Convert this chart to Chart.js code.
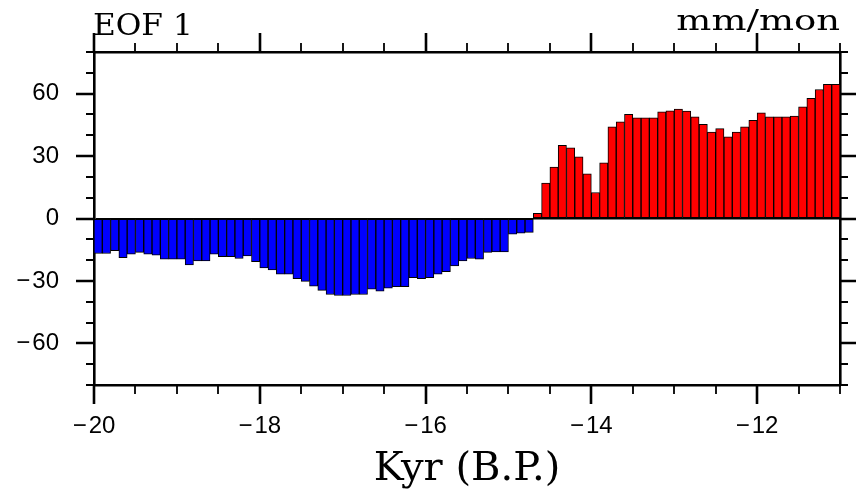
<!DOCTYPE html>
<html>
<head>
<meta charset="utf-8">
<script src="https://cdn.jsdelivr.net/npm/chart.js@4"></script>
<style>
  html, body { margin: 0; padding: 0; background: #fff; }
  #wrap { position: relative; width: 856px; height: 493px; }
</style>
</head>
<body>
<div id="wrap"><canvas id="c"></canvas></div>
<script>
// Bar centres (kyr B.P., negative = before present)
const kyr = [
  -19.95,-19.85,-19.75,-19.65,-19.55,-19.45,-19.35,-19.25,-19.15,-19.05,
  -18.95,-18.85,-18.75,-18.65,-18.55,-18.45,-18.35,-18.25,-18.15,-18.05,
  -17.95,-17.85,-17.75,-17.65,-17.55,-17.45,-17.35,-17.25,-17.15,-17.05,
  -16.95,-16.85,-16.75,-16.65,-16.55,-16.45,-16.35,-16.25,-16.15,-16.05,
  -15.95,-15.85,-15.75,-15.65,-15.55,-15.45,-15.35,-15.25,-15.15,-15.05,
  -14.95,-14.85,-14.75,-14.65,-14.55,-14.45,-14.35,-14.25,-14.15,-14.05,
  -13.95,-13.85,-13.75,-13.65,-13.55,-13.45,-13.35,-13.25,-13.15,-13.05,
  -12.95,-12.85,-12.75,-12.65,-12.55,-12.45,-12.35,-12.25,-12.15,-12.05,
  -11.95,-11.85,-11.75,-11.65,-11.55,-11.45,-11.35,-11.25,-11.15,-11.05
];
// EOF 1 amplitude (mm/mon)
const eof1 = [
  -16.8,-16.8,-15.5,-18.8,-17.1,-16.3,-17.1,-17.6,-19.6,-19.6,
  -19.6,-22.3,-20.4,-20.4,-17.1,-18.3,-18.3,-19.2,-18.0,-20.8,
  -23.8,-24.7,-26.8,-26.8,-28.9,-30.2,-32.5,-34.5,-36.5,-37.0,
  -37.0,-36.5,-36.5,-34.0,-34.9,-33.5,-32.8,-32.8,-28.4,-28.9,
  -28.4,-26.8,-25.5,-22.8,-20.4,-19.2,-19.5,-16.3,-16.0,-16.0,
  -7.5,-7.0,-6.7,2.5,17.0,24.7,35.2,34.0,29.6,21.5,
  12.5,26.8,44.0,46.5,50.0,48.4,48.4,48.4,51.3,51.7,
  52.6,51.6,48.9,45.2,41.5,43.2,39.2,41.5,44.0,47.2,
  50.8,48.9,48.9,48.9,49.2,53.7,57.7,62.0,64.5,64.5
];
const xLabelValues = [-20, -18, -16, -14, -12];
const xLabels = ['\u2212\u200a20', '\u2212\u200a18', '\u2212\u200a16', '\u2212\u200a14', '\u2212\u200a12'];
const xTickValues = [-20,-19.5,-19,-18.5,-18,-17.5,-17,-16.5,-16,-15.5,-15,-14.5,-14,-13.5,-13,-12.5,-12,-11.5,-11];
const yLabelValues = [-60, -30, 0, 30, 60];
const yLabels = ['\u2212\u200a60', '\u2212\u200a30', '0', '30', '60'];
const yTickValues = [-80,-70,-60,-50,-40,-30,-20,-10,0,10,20,30,40,50,60,70,80];
const titleLeft = 'EOF 1';
const titleRight = 'mm/mon';
const xTitle = 'Kyr (B.P.)';

const frameTicks = {
  id: 'frameTicks',
  afterDraw(chart) {
    const { ctx, chartArea: a } = chart;
    const x = chart.scales.x, y = chart.scales.y;
    ctx.save();
    ctx.strokeStyle = '#000';
    xTickValues.forEach(v => {
      const px = Math.round(x.getPixelForValue(v));
      const major = xLabelValues.includes(v);
      const len = major ? 19 : 9;
      ctx.lineWidth = major ? 2.6 : 1.8;
      ctx.beginPath();
      ctx.moveTo(px, a.bottom); ctx.lineTo(px, a.bottom + len);
      ctx.moveTo(px, a.top); ctx.lineTo(px, a.top - len);
      ctx.stroke();
    });
    yTickValues.forEach(v => {
      const py = Math.round(y.getPixelForValue(v));
      const major = yLabelValues.includes(v);
      const len = major ? 18 : 8;
      ctx.lineWidth = major ? 2.6 : 1.8;
      ctx.beginPath();
      ctx.moveTo(a.left, py); ctx.lineTo(a.left - len, py);
      ctx.moveTo(a.right, py); ctx.lineTo(a.right + len, py);
      ctx.stroke();
    });
    ctx.fillStyle = '#000';
    ctx.textBaseline = 'alphabetic';
    ctx.font = '30px "DejaVu Serif"';
    ctx.textAlign = 'left';
    ctx.save();
    ctx.translate(a.left - 1, 35);
    ctx.scale(1.04, 1);
    ctx.fillText(titleLeft, 0, 0);
    ctx.restore();
    ctx.font = '28px "DejaVu Serif"';
    ctx.textAlign = 'right';
    ctx.save();
    ctx.translate(a.right, 30);
    ctx.scale(1.32, 1);
    ctx.fillText(titleRight, 0, 0);
    ctx.restore();
    ctx.restore();
  }
};

const border = { display: true, color: '#000', width: 2.6 };
const noGrid = { display: true, drawOnChartArea: false, drawTicks: false };

new Chart(document.getElementById('c'), {
  type: 'bar',
  data: {
    datasets: [{
      data: kyr.map((k, i) => ({ x: k, y: eof1[i] })),
      backgroundColor: c => (c.raw && c.raw.y < 0) ? '#0000ff' : '#ff0000',
      borderColor: '#000',
      borderWidth: 1,
      borderSkipped: false,
      barPercentage: 1,
      categoryPercentage: 1
    }]
  },
  plugins: [frameTicks],
  options: {
    responsive: true,
    maintainAspectRatio: false,
    devicePixelRatio: 1,
    animation: false,
    layout: { padding: 0 },
    plugins: { legend: { display: false }, tooltip: { enabled: false }, title: { display: false } },
    scales: {
      x: {
        type: 'linear', position: 'bottom', min: -20, max: -11, offset: false,
        afterBuildTicks: s => { s.ticks = xLabelValues.map(v => ({ value: v })); },
        ticks: {
          autoSkip: false, maxRotation: 0, color: '#000', padding: 27,
          font: { family: 'Liberation Sans', size: 24 },
          callback: v => xLabels[xLabelValues.indexOf(v)]
        },
        grid: noGrid,
        border: border,
        title: { display: true, text: xTitle, color: '#000', font: { family: 'DejaVu Serif', size: 40, lineHeight: 1.0 }, padding: { top: 0, bottom: 3 } },
        afterFit: s => { s.height = 108; }
      },
      x2: {
        type: 'linear', position: 'top', min: -20, max: -11, offset: false,
        ticks: { display: false },
        grid: noGrid, border: border,
        afterFit: s => { s.height = 52; }
      },
      y: {
        type: 'linear', position: 'left', min: -80, max: 80,
        afterBuildTicks: s => { s.ticks = yLabelValues.map(v => ({ value: v })); },
        ticks: {
          color: '#000', padding: 35,
          font: { family: 'Liberation Sans', size: 24 },
          callback: v => yLabels[yLabelValues.indexOf(v)]
        },
        grid: {
          display: true, drawOnChartArea: true, drawTicks: false,
          color: c => (c.tick && c.tick.value === 0) ? '#000' : 'rgba(0,0,0,0)',
          lineWidth: 1.5
        },
        border: border,
        afterFit: s => { s.width = 94; }
      },
      y2: {
        type: 'linear', position: 'right', min: -80, max: 80,
        ticks: { display: false },
        grid: noGrid, border: border,
        afterFit: s => { s.width = 16; }
      }
    }
  }
});
</script>
</body>
</html>
